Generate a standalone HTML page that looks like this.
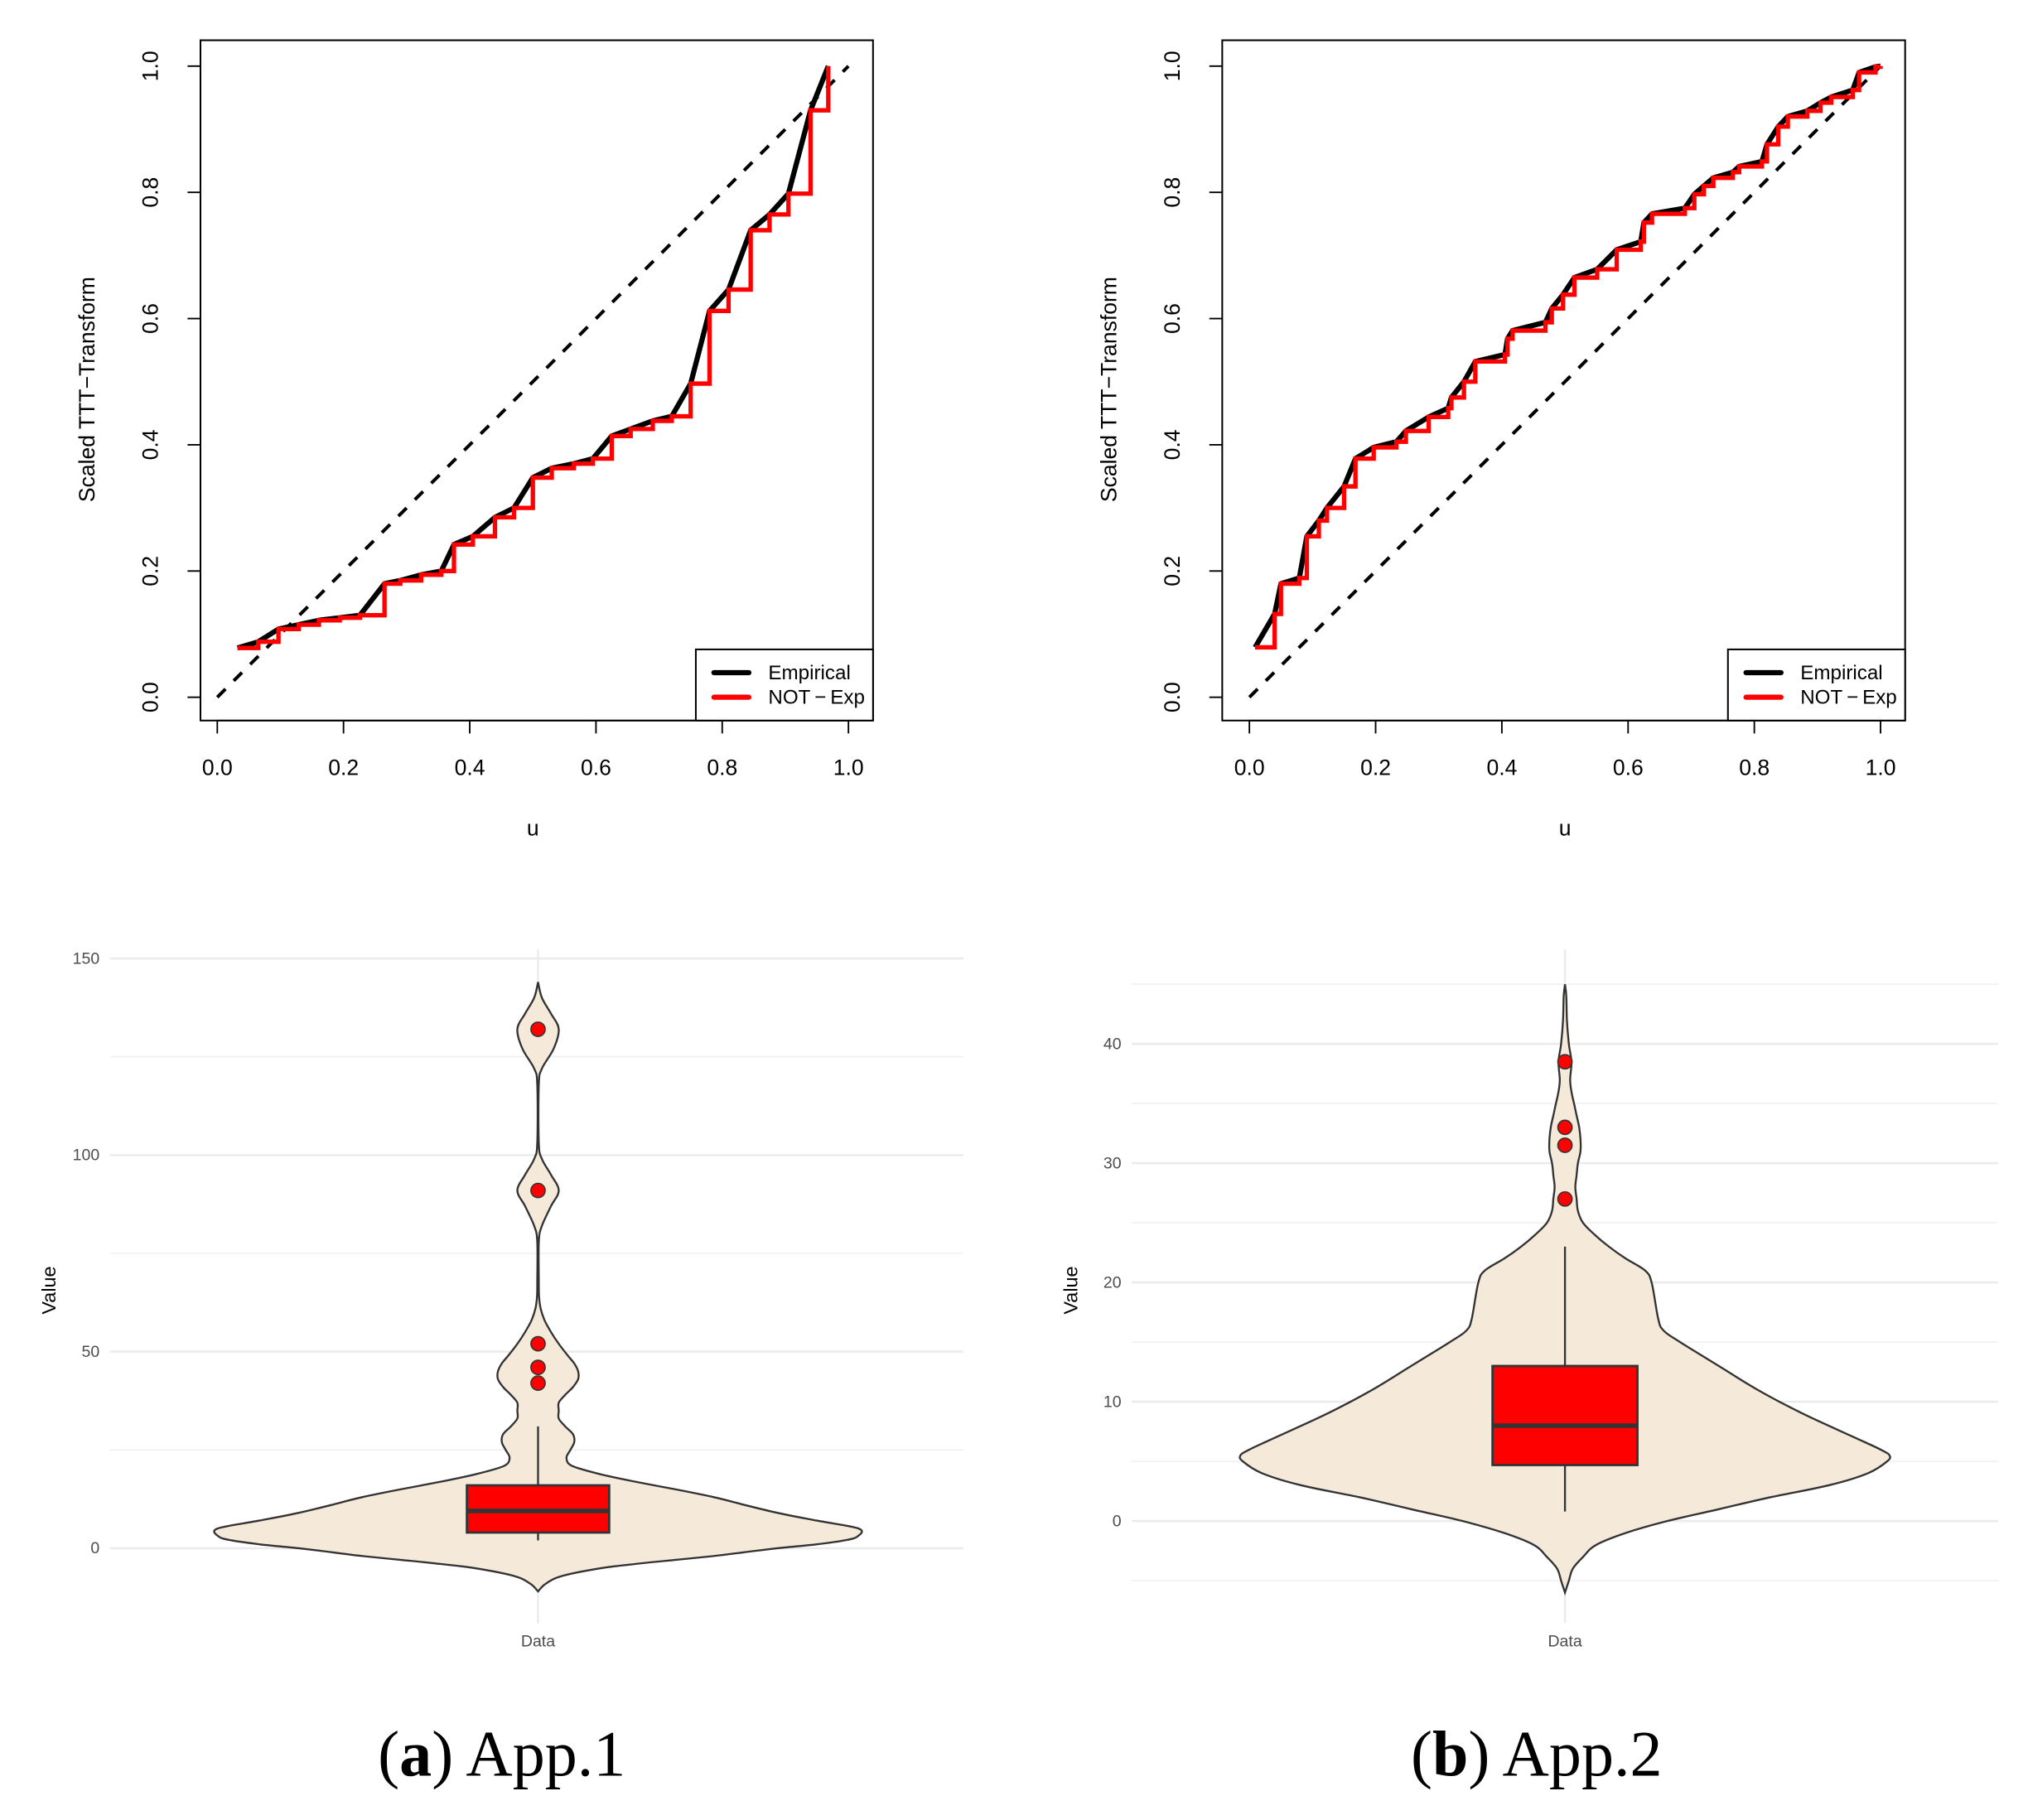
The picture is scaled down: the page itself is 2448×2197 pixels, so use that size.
<!DOCTYPE html>
<html><head><meta charset="utf-8"><style>
html,body{margin:0;padding:0;background:#fff;}
svg{display:block;}
</style></head><body>
<svg id="fig" xmlns="http://www.w3.org/2000/svg" width="2448" height="2197" viewBox="0 0 1568 1407" font-family="Liberation Sans, sans-serif">
<rect width="1568" height="1407" fill="#fff"/>
<g id="pa"></g>
<g id="pb"></g>
<g id="va"></g>
<g id="vb"></g>
<text x="388" y="1373" text-anchor="middle" font-family="Liberation Serif, serif" font-size="50">(<tspan font-weight="bold">a</tspan>) App.1</text>
<text x="1188" y="1373" text-anchor="middle" font-family="Liberation Serif, serif" font-size="50">(<tspan font-weight="bold">b</tspan>) App.2</text>
</svg>
<script>
// ---- TTT data ----
const tttTicks = [0, 0.2, 0.4, 0.6, 0.8, 1.0];
const tttLabels = ["0.0", "0.2", "0.4", "0.6", "0.8", "1.0"];
const uA = [0.032,0.065,0.097,0.129,0.161,0.194,0.226,0.265,0.29,0.323,0.355,0.375,0.405,0.44,0.47,0.5,0.53,0.565,0.595,0.625,0.655,0.69,0.72,0.75,0.78,0.81,0.845,0.875,0.905,0.94,0.968];
const tA = [0.078,0.088,0.108,0.115,0.122,0.126,0.130,0.180,0.185,0.194,0.200,0.242,0.255,0.285,0.300,0.348,0.363,0.370,0.378,0.414,0.425,0.438,0.445,0.497,0.612,0.646,0.740,0.765,0.798,0.930,1.0];
const uB = [0.009,0.04,0.05,0.079,0.091,0.11,0.123,0.15,0.168,0.197,0.233,0.248,0.284,0.315,0.32,0.34,0.358,0.405,0.409,0.417,0.469,0.479,0.497,0.515,0.551,0.582,0.62,0.625,0.638,0.69,0.705,0.72,0.735,0.766,0.776,0.812,0.82,0.838,0.853,0.884,0.905,0.922,0.956,0.966,0.992,1.0];
const tB = [0.079,0.132,0.18,0.189,0.255,0.28,0.30,0.334,0.378,0.396,0.405,0.422,0.444,0.458,0.475,0.50,0.532,0.543,0.568,0.581,0.594,0.616,0.638,0.665,0.678,0.709,0.722,0.752,0.766,0.775,0.797,0.81,0.823,0.832,0.841,0.849,0.876,0.904,0.92,0.929,0.942,0.951,0.962,0.99,0.999,1.0];

// ---- violin data ----
const vaTicks = [0,50,100,150];
const vaMinor = [25,75,125];
const vaVals = [-11,-9,-7,-5,-4,-3,-2,-1,0,1,2,3,5,7,9,11,13,15,17,19,21,23,25,27,29,31,33,35,37,39,41,43,45,47,49,52,55,58,61,64,67,78,82,87,91,95,99,103,118,122,127,132,136,140,144];
const vaHalf = [0,6,19,50,75,105,135,160,185,215,237,247,248,216,185,160,136,106,74,46,26,22,25,28,27,21,16,16,16,21,27,31,31,28,23,16,10,5,2,0.8,0.6,0.6,3,10,16,10,3,0.6,0.6,3,12,16,10,3,0];
const vaBox = [2, 4, 9.5, 16, 31];
const vaOut = [132, 91, 52, 46, 42];

const vbTicks = [0,10,20,30,40];
const vbMinor = [-5,5,15,25,35,45];
const vbVals = [-6,-5,-4,-3,-2,-1,0,1,2,3,4,5,5.5,6,7,9,11,13,15,16,17,20,21,22,23,24,25,26,27,28,29,30,31,32,33,34,35,36,37,38.5,40,42,44,45];
const vbHalf = [0,3,6,14,24,47,79,119,159,204,234,249,251,244,224,184,149,119,89,76,72,67,62,47,34,23,14,10,9,8,9,10,12,12,11,9,7,5,4,5,3,1.5,1,0];
const vbBox = [0.8, 4.7, 8, 13, 23];
const vbOut = [38.5, 33, 31.5, 27];

const NS = "http://www.w3.org/2000/svg";
function mk(parent, tag, attrs, txt){
  const e = document.createElementNS(NS, tag);
  for (const k in attrs) e.setAttribute(k, attrs[k]);
  if (txt !== undefined) e.textContent = txt;
  parent.appendChild(e); return e;
}

function ttt(gid, box, x0, x1, us, ts){
  const g = document.getElementById(gid);
  const sx = u => x0 + u*(x1-x0);
  const sy = v => 539 + v*(51-539);
  const fr = mk(g,'rect',{x:box[0],y:31,width:box[1]-box[0],height:526,fill:'none',stroke:'#000','stroke-width':1.3});
  
  
  tttTicks.forEach((t,i)=>{
    const tk = mk(g,'line',{x1:sx(t),x2:sx(t),y1:557,y2:567,stroke:'#000','stroke-width':1.2});
    
    
    const tl = mk(g,'text',{x:sx(t),y:599,'text-anchor':'middle','font-size':17},tttLabels[i]);
    
    
    const yt = mk(g,'line',{x1:box[0],x2:box[0]-10,y1:sy(t),y2:sy(t),stroke:'#000','stroke-width':1.2});
    
    
    const yl = mk(g,'text',{x:0,y:0,'text-anchor':'middle','font-size':17,transform:`translate(${box[0]-33},${sy(t)}) rotate(-90)`},tttLabels[i]);
    
    
  });
  const xa = mk(g,'line',{x1:sx(0),x2:sx(1),y1:557,y2:557,stroke:'#000','stroke-width':1.2});
  
  
  const xt = mk(g,'text',{x:(sx(0)+sx(1))/2,y:646,'text-anchor':'middle','font-size':17},'u');
  
  
  const yT = mk(g,'text',{x:0,y:0,'text-anchor':'middle','font-size':17,transform:`translate(${box[0]-82},${sy(0.5)+6}) rotate(-90)`},'Scaled TTT\u2212Transform');
  
  
  const dg = mk(g,'line',{x1:sx(0),y1:sy(0),x2:sx(1),y2:sy(1),stroke:'#000','stroke-width':2.6,'stroke-dasharray':'9 9'});
  
  
  let d = '';
  us.forEach((u,i)=>{ d += (i?'L':'M') + sx(u).toFixed(1)+','+sy(ts[i]).toFixed(1); });
  const emp = mk(g,'path',{d:d,fill:'none',stroke:'#000','stroke-width':4,'stroke-linejoin':'round'});
  
  
  let r = 'M'+sx(us[0]).toFixed(1)+','+sy(ts[0]).toFixed(1);
  for (let i=1;i<us.length;i++){ r += 'H'+sx(us[i]).toFixed(1)+'V'+sy(ts[i]).toFixed(1); }
  const red = mk(g,'path',{d:r,fill:'none',stroke:'#ff0000','stroke-width':3.4});
  
  
  const lg = mk(g,'g',{});
  
  
  const lx = box[1]-137;
  mk(lg,'rect',{x:lx,y:502,width:137,height:55,fill:'#fff',stroke:'#000','stroke-width':1.3});
  const l1 = mk(lg,'line',{x1:lx+14,x2:lx+41,y1:520,y2:520,stroke:'#000','stroke-width':4,'stroke-linecap':'round'});
  
  
  const l2 = mk(lg,'line',{x1:lx+14,x2:lx+41,y1:539,y2:539,stroke:'#ff0000','stroke-width':4,'stroke-linecap':'round'});
  
  
  const t1 = mk(lg,'text',{x:lx+56,y:525,'font-size':15.5},'Empirical');
  
  
  const t2 = mk(lg,'text',{x:lx+56,y:544,'font-size':15.5},'NOT\u2009\u2212\u2009Exp');
  
  
}
ttt('pa',[155,675],168,656,uA,tA);
ttt('pb',[945,1473],966,1454,uB,tB);

function smoothPath(pts){
  let d = 'M'+pts[0][0].toFixed(1)+','+pts[0][1].toFixed(1);
  for (let i=0;i<pts.length-1;i++){
    const p0=pts[Math.max(0,i-1)],p1=pts[i],p2=pts[i+1],p3=pts[Math.min(pts.length-1,i+2)];
    const c1=[p1[0]+(p2[0]-p0[0])/6,p1[1]+(p2[1]-p0[1])/6];
    const c2=[p2[0]-(p3[0]-p1[0])/6,p2[1]-(p3[1]-p1[1])/6];
    d+='C'+c1[0].toFixed(1)+','+c1[1].toFixed(1)+' '+c2[0].toFixed(1)+','+c2[1].toFixed(1)+' '+p2[0].toFixed(1)+','+p2[1].toFixed(1);
  }
  return d;
}

function violin(gid, area, cx, v0y, vTop, vTopY, ticks, minor, vals, half, bx, outs, bw){
  const g = document.getElementById(gid);
  const sy = v => v0y + v*(vTopY-v0y)/vTop;
  minor.forEach(t=>{
    const l = mk(g,'line',{x1:area[0],x2:area[1],y1:sy(t),y2:sy(t),stroke:'#f0f0f0','stroke-width':1});
    
    
  });
  ticks.forEach(t=>{
    const l = mk(g,'line',{x1:area[0],x2:area[1],y1:sy(t),y2:sy(t),stroke:'#ebebeb','stroke-width':1.6});
    
    
    const tl = mk(g,'text',{x:area[0]-8,y:sy(t)+4,'text-anchor':'end','font-size':12.5,fill:'#4d4d4d'},String(t));
    
    
  });
  const vg = mk(g,'line',{x1:cx,x2:cx,y1:area[2],y2:area[3],stroke:'#ebebeb','stroke-width':1.6});
  
  
  const right = vals.map((v,i)=>[cx+half[i], sy(v)]);
  const left = vals.map((v,i)=>[cx-half[i], sy(v)]).reverse();
  const d = smoothPath(right) + smoothPath(left).replace(/^M/,'L') + 'Z';
  const vp = mk(g,'path',{d:d,fill:'#f5e9d9',stroke:'#333','stroke-width':1.5});
  
  
  const wh = mk(g,'line',{x1:cx,x2:cx,y1:sy(bx[0]),y2:sy(bx[4]),stroke:'#333','stroke-width':1.5});
  
  
  const br = mk(g,'rect',{x:cx-bw,y:sy(bx[3]),width:2*bw,height:sy(bx[1])-sy(bx[3]),fill:'#ff0000',stroke:'#333','stroke-width':1.8});
  
  
  const md = mk(g,'line',{x1:cx-bw,x2:cx+bw,y1:sy(bx[2]),y2:sy(bx[2]),stroke:'#333','stroke-width':3.5});
  
  
  outs.forEach(o=>{
    const c = mk(g,'circle',{cx:cx,cy:sy(o),r:5.5,fill:'#ff0000',stroke:'#333','stroke-width':1});
    
    
  });
  const xl = mk(g,'text',{x:cx,y:area[3]+18,'text-anchor':'middle','font-size':12.5,fill:'#4d4d4d'},'Data');
  
  
  const yt = mk(g,'text',{x:0,y:0,'text-anchor':'middle','font-size':15,transform:`translate(${area[0]-42},${(area[2]+area[3])/2+3}) rotate(-90)`},'Value');
  
  
}
violin('va',[85,745,734,1255],416,1197,150,741,vaTicks,vaMinor,vaVals,vaHalf,vaBox,vaOut,55);
violin('vb',[875,1545,734,1255],1210,1176,40,807,vbTicks,vbMinor,vbVals,vbHalf,vbBox,vbOut,56);
</script>
</body></html>
